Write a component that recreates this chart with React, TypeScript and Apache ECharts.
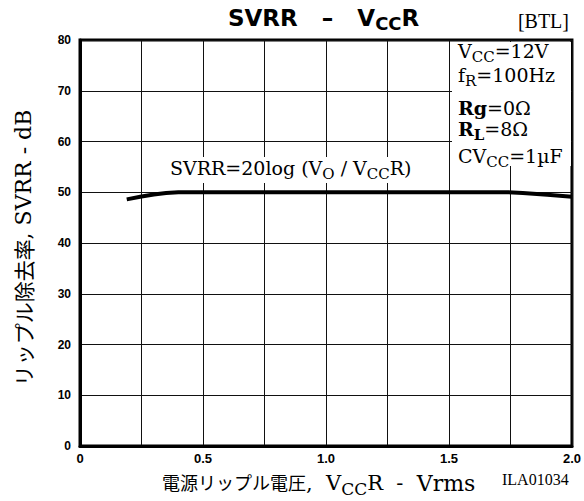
import React, { useEffect, useRef } from "react";
import * as echarts from "echarts";

// Axis ranges / ticks
const xMin = 0;
const xMax = 2;
const xStep = 0.25;
const xLabeledTicks = [0, 0.5, 1.0, 1.5, 2.0];
const yMin = 0;
const yMax = 80;
const yStep = 10;

// Series: ripple voltage (Vrms) vs SVRR (dB)
const rippleVrms = [0.19, 0.25, 0.3, 0.35, 0.4, 1.0, 1.74, 1.8, 1.9, 2.0];
const svrrDb = [48.6, 49.15, 49.55, 49.85, 50, 50, 50, 49.85, 49.5, 49.1];

// Texts
const conditionLines = [
  "{n|V}{s|CC}{n|=12V}",
  "{n|f}{s|R}{n|=100Hz}",
  "{b|Rg}{n|=0Ω}",
  "{b|R}{sb|L}{n|=8Ω}",
  "{n|CV}{s|CC}{n|=1µF}",
];
const conditionTops = [41, 65, 98, 119, 146];

const SERIF = "'DejaVu Serif', 'Liberation Serif', serif";
const SANS = "'Liberation Sans', Arial, sans-serif";
const CJK = "'Noto Sans CJK JP', sans-serif";

export default function App() {
  const ref = useRef<HTMLDivElement>(null);

  useEffect(() => {
    const chart = echarts.init(ref.current!, null, { renderer: "svg" });
    const data = rippleVrms.map((x, i) => [x, svrrDb[i]]);

    const serifRich = {
      n: { fontFamily: SERIF, fontSize: 19, lineHeight: 22, verticalAlign: "top", fill: "#000" },
      b: { fontFamily: SERIF, fontSize: 19, fontWeight: "bold", lineHeight: 22, verticalAlign: "top", fill: "#000" },
      s: { fontFamily: SERIF, fontSize: 15, lineHeight: 22, verticalAlign: "top", padding: [8, 0, 0, 0], fill: "#000" },
      sb: { fontFamily: SERIF, fontSize: 15, fontWeight: "bold", lineHeight: 22, verticalAlign: "top", padding: [8, 0, 0, 0], fill: "#000" },
    };

    const graphics: any[] = [
      // Title
      {
        type: "text",
        x: 228,
        y: 6,
        z: 100,
        style: {
          text: "{t|SVRR   –   V}{ts|CC}{t|R}",
          align: "left",
          verticalAlign: "top",
          rich: {
            t: { fontFamily: "'DejaVu Sans', sans-serif", fontWeight: "bold", fontSize: 23, lineHeight: 26, verticalAlign: "top", fill: "#000" },
            ts: { fontFamily: "'DejaVu Sans', sans-serif", fontWeight: "bold", fontSize: 18, lineHeight: 26, verticalAlign: "top", padding: [8, 0, 0, 0], fill: "#000" },
          },
        },
      },
      {
        type: "text",
        x: 569,
        y: 21,
        z: 100,
        style: {
          text: "[BTL]",
          align: "right",
          verticalAlign: "middle",
          fontFamily: "'Liberation Serif', serif",
          fontSize: 20,
          fill: "#000",
        },
      },
      // white box behind conditions
      {
        type: "rect",
        z: 90,
        shape: { x: 452, y: 42, width: 119, height: 124 },
        style: { fill: "#fff" },
      },
      ...conditionLines.map((t, i) => ({
        type: "text",
        x: 458,
        y: conditionTops[i],
        z: 100,
        style: { text: t, align: "left", verticalAlign: "top", rich: serifRich },
      })),
      // formula label with white background
      {
        type: "rect",
        z: 90,
        shape: { x: 167, y: 157, width: 249, height: 26 },
        style: { fill: "#fff" },
      },
      {
        type: "text",
        x: 170,
        y: 158,
        z: 100,
        style: {
          text: "{n|SVRR=20log (V}{s|O}{n| / V}{s|CC}{n|R)}",
          align: "left",
          verticalAlign: "top",
          rich: serifRich,
        },
      },
      // x axis name
      {
        type: "text",
        x: 162,
        y: 472,
        z: 100,
        style: {
          text: "{j|電源リップル電圧}{l|,  V}{ls|CC}{l|R  -  }{w|Vrms}",
          align: "left",
          verticalAlign: "top",
          rich: {
            j: { fontFamily: CJK, fontSize: 18, lineHeight: 24, verticalAlign: "top", padding: [1, 0, 0, 0], fill: "#000" },
            l: { fontFamily: SERIF, fontSize: 21, lineHeight: 24, verticalAlign: "top", fill: "#000" },
            w: { fontFamily: SERIF, fontSize: 22, lineHeight: 24, verticalAlign: "top", fill: "#000" },
            ls: { fontFamily: SERIF, fontSize: 17, lineHeight: 24, verticalAlign: "top", padding: [8, 0, 0, 0], fill: "#000" },
          },
        },
      },
      {
        type: "text",
        x: 502,
        y: 479,
        z: 100,
        style: {
          text: "ILA01034",
          align: "left",
          verticalAlign: "middle",
          fontFamily: "'Liberation Serif', serif",
          fontSize: 16,
          fill: "#000",
        },
      },
      // y axis name
      {
        type: "text",
        x: 23,
        y: 248,
        rotation: Math.PI / 2,
        z: 100,
        style: {
          text: "{j|リップル除去率}{l|, SVRR - dB}",
          align: "center",
          verticalAlign: "middle",
          rich: {
            j: { fontFamily: CJK, fontSize: 21, lineHeight: 26, verticalAlign: "middle", fill: "#000" },
            l: { fontFamily: SERIF, fontSize: 22, lineHeight: 26, verticalAlign: "middle", fill: "#000" },
          },
        },
      },
    ];

    chart.setOption({
      animation: false,
      backgroundColor: "#fff",
      grid: {
        left: 80,
        right: 10,
        top: 40,
        bottom: 55,
        show: true,
        borderColor: "#000",
        borderWidth: 3,
      },
      xAxis: {
        type: "value",
        min: xMin,
        max: xMax,
        interval: xStep,
        axisLine: { show: true, lineStyle: { color: "#000", width: 3 } },
        axisTick: { show: false },
        splitLine: { show: true, lineStyle: { color: "#111", width: 1 } },
        axisLabel: {
          color: "#000",
          fontFamily: SANS,
          fontWeight: "bold",
          fontSize: 13,
          margin: 6,
          showMinLabel: true,
          showMaxLabel: true,
          formatter: (v: number) => {
            const hit = xLabeledTicks.some((t) => Math.abs(t - v) < 1e-6);
            if (!hit) return "";
            return v === 0 ? "0" : v.toFixed(1);
          },
        },
      },
      yAxis: {
        type: "value",
        min: yMin,
        max: yMax,
        interval: yStep,
        axisLine: { show: true, lineStyle: { color: "#000", width: 3 } },
        axisTick: { show: false },
        splitLine: { show: true, lineStyle: { color: "#111", width: 1 } },
        axisLabel: {
          color: "#000",
          fontFamily: SANS,
          fontWeight: "bold",
          fontSize: 12,
          margin: 9,
        },
      },
      series: [
        {
          type: "line",
          data,
          symbol: "none",
          smooth: false,
          lineStyle: { color: "#000", width: 4 },
          z: 5,
        },
      ],
      graphic: graphics,
    });

    return () => chart.dispose();
  }, []);

  return (
    <div
      ref={ref}
      style={{ position: "fixed", left: 0, top: 0, width: 584, height: 501 }}
    />
  );
}
